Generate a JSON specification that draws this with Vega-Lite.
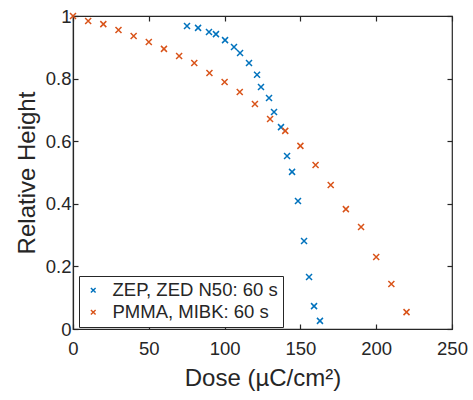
{
  "$schema": "https://vega.github.io/schema/vega-lite/v6.json",
  "width": 379,
  "height": 313,
  "autosize": "none",
  "padding": {"left": 73, "top": 16, "right": 21, "bottom": 71},
  "background": "white",
  "config": {
    "font": "Liberation Sans",
    "view": {"stroke": "#262626", "strokeWidth": 1.2},
    "axis": {"grid": false, "domainColor": "#262626", "tickColor": "#262626", "labelColor": "#262626", "titleColor": "#262626", "labelFontSize": 18.5, "titleFontSize": 24, "titleFontWeight": "normal", "tickSize": -5, "domainWidth": 1.2, "tickWidth": 1.2}
  },
  "data": {"values": [
    {"dose": 75.2, "h": 0.968, "s": "ZEP, ZED N50: 60 s"},
    {"dose": 82.5, "h": 0.962, "s": "ZEP, ZED N50: 60 s"},
    {"dose": 89.7, "h": 0.949, "s": "ZEP, ZED N50: 60 s"},
    {"dose": 94.3, "h": 0.942, "s": "ZEP, ZED N50: 60 s"},
    {"dose": 100.3, "h": 0.923, "s": "ZEP, ZED N50: 60 s"},
    {"dose": 106.2, "h": 0.901, "s": "ZEP, ZED N50: 60 s"},
    {"dose": 110.2, "h": 0.882, "s": "ZEP, ZED N50: 60 s"},
    {"dose": 116.1, "h": 0.850, "s": "ZEP, ZED N50: 60 s"},
    {"dose": 121.4, "h": 0.812, "s": "ZEP, ZED N50: 60 s"},
    {"dose": 124.0, "h": 0.773, "s": "ZEP, ZED N50: 60 s"},
    {"dose": 129.3, "h": 0.738, "s": "ZEP, ZED N50: 60 s"},
    {"dose": 132.6, "h": 0.693, "s": "ZEP, ZED N50: 60 s"},
    {"dose": 137.2, "h": 0.645, "s": "ZEP, ZED N50: 60 s"},
    {"dose": 141.2, "h": 0.553, "s": "ZEP, ZED N50: 60 s"},
    {"dose": 144.5, "h": 0.502, "s": "ZEP, ZED N50: 60 s"},
    {"dose": 148.4, "h": 0.409, "s": "ZEP, ZED N50: 60 s"},
    {"dose": 152.4, "h": 0.281, "s": "ZEP, ZED N50: 60 s"},
    {"dose": 155.7, "h": 0.166, "s": "ZEP, ZED N50: 60 s"},
    {"dose": 159.0, "h": 0.073, "s": "ZEP, ZED N50: 60 s"},
    {"dose": 162.9, "h": 0.026, "s": "ZEP, ZED N50: 60 s"},
    {"dose": 0, "h": 1.0, "s": "PMMA, MIBK: 60 s"},
    {"dose": 10, "h": 0.984, "s": "PMMA, MIBK: 60 s"},
    {"dose": 20, "h": 0.974, "s": "PMMA, MIBK: 60 s"},
    {"dose": 30, "h": 0.955, "s": "PMMA, MIBK: 60 s"},
    {"dose": 40, "h": 0.936, "s": "PMMA, MIBK: 60 s"},
    {"dose": 50, "h": 0.917, "s": "PMMA, MIBK: 60 s"},
    {"dose": 60, "h": 0.895, "s": "PMMA, MIBK: 60 s"},
    {"dose": 70, "h": 0.872, "s": "PMMA, MIBK: 60 s"},
    {"dose": 80, "h": 0.850, "s": "PMMA, MIBK: 60 s"},
    {"dose": 90, "h": 0.818, "s": "PMMA, MIBK: 60 s"},
    {"dose": 100, "h": 0.789, "s": "PMMA, MIBK: 60 s"},
    {"dose": 110, "h": 0.757, "s": "PMMA, MIBK: 60 s"},
    {"dose": 120, "h": 0.719, "s": "PMMA, MIBK: 60 s"},
    {"dose": 130, "h": 0.671, "s": "PMMA, MIBK: 60 s"},
    {"dose": 140, "h": 0.633, "s": "PMMA, MIBK: 60 s"},
    {"dose": 150, "h": 0.585, "s": "PMMA, MIBK: 60 s"},
    {"dose": 160, "h": 0.524, "s": "PMMA, MIBK: 60 s"},
    {"dose": 170, "h": 0.460, "s": "PMMA, MIBK: 60 s"},
    {"dose": 180, "h": 0.383, "s": "PMMA, MIBK: 60 s"},
    {"dose": 190, "h": 0.326, "s": "PMMA, MIBK: 60 s"},
    {"dose": 200, "h": 0.230, "s": "PMMA, MIBK: 60 s"},
    {"dose": 210, "h": 0.144, "s": "PMMA, MIBK: 60 s"},
    {"dose": 220, "h": 0.054, "s": "PMMA, MIBK: 60 s"}
  ]},
  "layer": [
    {
      "mark": {"type": "point", "shape": "M-1,-1L1,1M-1,1L1,-1", "filled": false, "size": 36, "strokeWidth": 1.5, "opacity": 1},
      "encoding": {
        "x": {"field": "dose", "type": "quantitative", "scale": {"domain": [0, 250], "nice": false}, "axis": {"values": [0, 50, 100, 150, 200, 250], "title": "Dose (µC/cm²)", "labelPadding": 15, "titlePadding": 9, "labelFlush": false}},
        "y": {"field": "h", "type": "quantitative", "scale": {"domain": [0, 1], "nice": false}, "axis": {"values": [0, 0.2, 0.4, 0.6, 0.8, 1], "format": "~f", "title": "Relative Height", "labelPadding": 7, "titlePadding": 6, "labelFlush": false}},
        "color": {"field": "s", "type": "nominal", "scale": {"domain": ["ZEP, ZED N50: 60 s", "PMMA, MIBK: 60 s"], "range": ["#0072BD", "#D95319"]},
          "legend": {"title": null, "orient": "none", "legendX": 6, "legendY": 260, "strokeColor": "#262626", "fillColor": "white", "padding": 5, "labelFontSize": 18.5, "labelColor": "#262626", "symbolType": "M-1,-1L1,1M-1,1L1,-1", "symbolSize": 22, "symbolStrokeWidth": 1.4, "symbolFillColor": "transparent", "rowPadding": 3, "labelOffset": 10, "labelLimit": 300}}
      }
    },
    {
      "mark": {"type": "point", "opacity": 0},
      "encoding": {
        "x": {"field": "dose", "type": "quantitative", "axis": {"orient": "top", "values": [0, 50, 100, 150, 200, 250], "labels": false, "title": null, "domain": false}},
        "y": {"field": "h", "type": "quantitative", "axis": {"orient": "right", "values": [0, 0.2, 0.4, 0.6, 0.8, 1], "labels": false, "title": null, "domain": false}}
      }
    }
  ],
  "resolve": {"axis": {"x": "independent", "y": "independent"}}
}
